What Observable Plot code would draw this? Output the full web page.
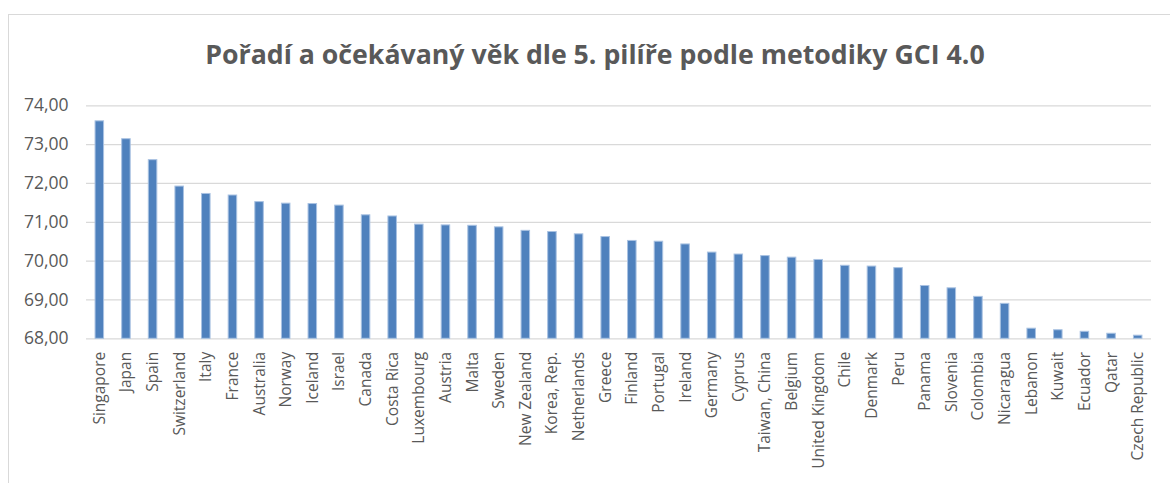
<!DOCTYPE html>
<html><head><meta charset="utf-8">
<script src="https://cdn.jsdelivr.net/npm/d3@7"></script>
<script src="https://cdn.jsdelivr.net/npm/@observablehq/plot@0.6"></script>
<style>
html,body{margin:0;padding:0;background:#fff;overflow:hidden;width:1170px;height:483px}
#wrap{position:relative;width:1170px;height:483px;overflow:hidden}
#frame{position:absolute;left:8px;top:14px;width:1200px;height:600px;border:1.3px solid #d9d9d9;box-sizing:border-box}
#title{position:relative;height:90px}
#title span{position:absolute;left:0;width:1190px;text-align:center;top:35px;font:bold 26.7px "Open Sans";color:#595959;white-space:nowrap}
#chart{position:relative}
</style></head>
<body>
<div id="wrap">
<div id="frame"></div>
<div id="title"><span>Pořadí a očekávaný věk dle 5. pilíře podle metodiky GCI 4.0</span></div>
<div id="chart"></div>
</div>
<script>
const countries = ["Singapore","Japan","Spain","Switzerland","Italy","France","Australia","Norway","Iceland","Israel","Canada","Costa Rica","Luxembourg","Austria","Malta","Sweden","New Zealand","Korea, Rep.","Netherlands","Greece","Finland","Portugal","Ireland","Germany","Cyprus","Taiwan, China","Belgium","United Kingdom","Chile","Denmark","Peru","Panama","Slovenia","Colombia","Nicaragua","Lebanon","Kuwait","Ecuador","Qatar","Czech Republic"];
const values = [73.60,73.14,72.60,71.92,71.73,71.69,71.52,71.48,71.47,71.43,71.18,71.15,70.94,70.92,70.91,70.87,70.78,70.75,70.69,70.62,70.52,70.50,70.43,70.22,70.17,70.13,70.09,70.03,69.88,69.86,69.82,69.36,69.30,69.08,68.90,68.26,68.22,68.18,68.13,68.08];
const yTicks = [68,69,70,71,72,73,74];
const yMin = 68;

const data = countries.map((c,i)=>({country:c, value:values[i]}));
const fmt = d => d.toFixed(2).replace(".", ",");

const chart = Plot.plot({
  width: 1170, height: 393,
  marginLeft: 86, marginRight: 19, marginTop: 15.3, marginBottom: 144.7,
  x: {domain: countries, paddingInner: 0.68, paddingOuter: 0.34, round: false, label: null},
  y: {domain: [68, 74], label: null},
  style: {fontFamily: "Open Sans", color: "#595959", background: "transparent"},
  marks: [
    Plot.ruleY(yTicks, {stroke: "#d9d9d9", strokeWidth: 1.3}),
    Plot.barY(data, {x: "country", y1: yMin, y2: "value", fill: "#4F81BD", stroke: "#A9C2E2", strokeWidth: 1}),
    Plot.axisY({ticks: yTicks, tickSize: 0, tickPadding: 18, fontSize: 17.5, tickFormat: fmt, label: null}),
    Plot.axisX({tickRotate: -90, tickSize: 0, tickPadding: 13, fontSize: 15.5, label: null})
  ]
});
document.getElementById("chart").appendChild(chart);
</script>
</body></html>
